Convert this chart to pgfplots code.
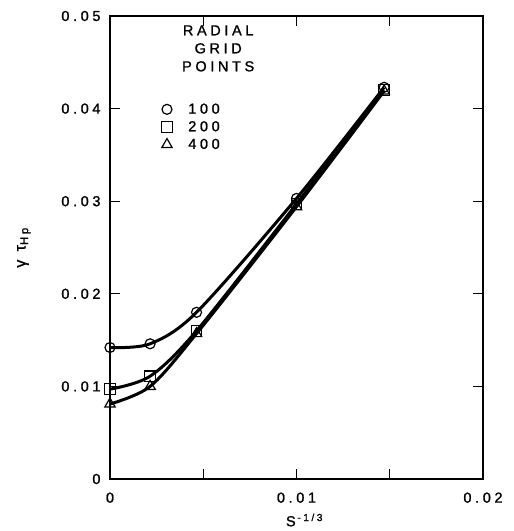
\documentclass[border=0pt]{standalone}
\usepackage{fontspec}
\setmainfont[LetterSpace=25, FakeBold=1.2]{Liberation Sans}
\usepackage{pgfplots}
\pgfplotsset{compat=1.18}
\begin{document}
\begin{tikzpicture}
\path[use as bounding box] (-110pt,-52pt) rectangle (404pt,479pt);
\begin{axis}[
  at={(0pt,0pt)}, anchor=south west,
  scale only axis, width=373pt, height=463pt,
  xmin=0, xmax=0.02, ymin=0, ymax=0.05,
  scaled ticks=false,
  axis line style={line width=1.6pt},
  tick style={line width=1.2pt, black},
  tick align=inside, major tick length=10pt,
  xtick={0,0.005,0.01,0.015,0.02},
  xticklabels={0,,0.01,,0.02},
  ytick={0,0.01,0.02,0.03,0.04,0.05},
  yticklabels={0,0.01,0.02,0.03,0.04,0.05},
  tick label style={font=\fontsize{14.5}{16}\selectfont},
  xticklabel style={yshift=-10pt},
  yticklabel style={xshift=-6pt},
  xlabel={S\textsuperscript{\,-1/3}},
  xlabel style={font=\fontsize{14.5}{16}\selectfont, yshift=-4pt, xshift=8pt},
  ylabel={γ τ\textsubscript{Hp}},
  ylabel style={font=\fontsize{16}{18}\selectfont, yshift=24pt},
  legend style={draw=none, fill=none, at={(rel axis cs:0.13,0.82)}, anchor=north west,
    font=\fontsize{14.5}{16}\selectfont, row sep=2pt},
  legend cell align=left,
  legend image code/.code={\draw[#1, only marks] plot coordinates {(0.25cm,0cm)};},
]
\addplot[black, line width=3pt, smooth, mark=o, mark size=5pt,
  mark options={fill=white, line width=1.2pt, solid}]
  coordinates {(0,0.0142) (0.00215,0.0146) (0.00464,0.0180) (0.01,0.0303) (0.0147,0.0423)};
\addlegendentry{\hspace{14pt}100}
\addplot[black, line width=3pt, smooth, mark=square, mark size=5.3pt,
  mark options={fill=white, line width=1.2pt, solid}]
  coordinates {(0,0.0097) (0.00215,0.0111) (0.00464,0.0160) (0.01,0.0297) (0.0147,0.0420)};
\addlegendentry{\hspace{14pt}200}
\addplot[black, line width=3pt, smooth, mark=triangle, mark size=6pt,
  mark options={fill=white, line width=1.2pt, solid}]
  coordinates {(0,0.0081) (0.00215,0.0100) (0.00464,0.0157) (0.01,0.0294) (0.0147,0.0419)};
\addlegendentry{\hspace{14pt}400}
\node[align=center, font=\fontsize{14.5}{18}\selectfont, inner sep=0pt] at (rel axis cs:0.29,0.93) {RADIAL\\GRID\\POINTS};
\end{axis}
\end{tikzpicture}
\end{document}
